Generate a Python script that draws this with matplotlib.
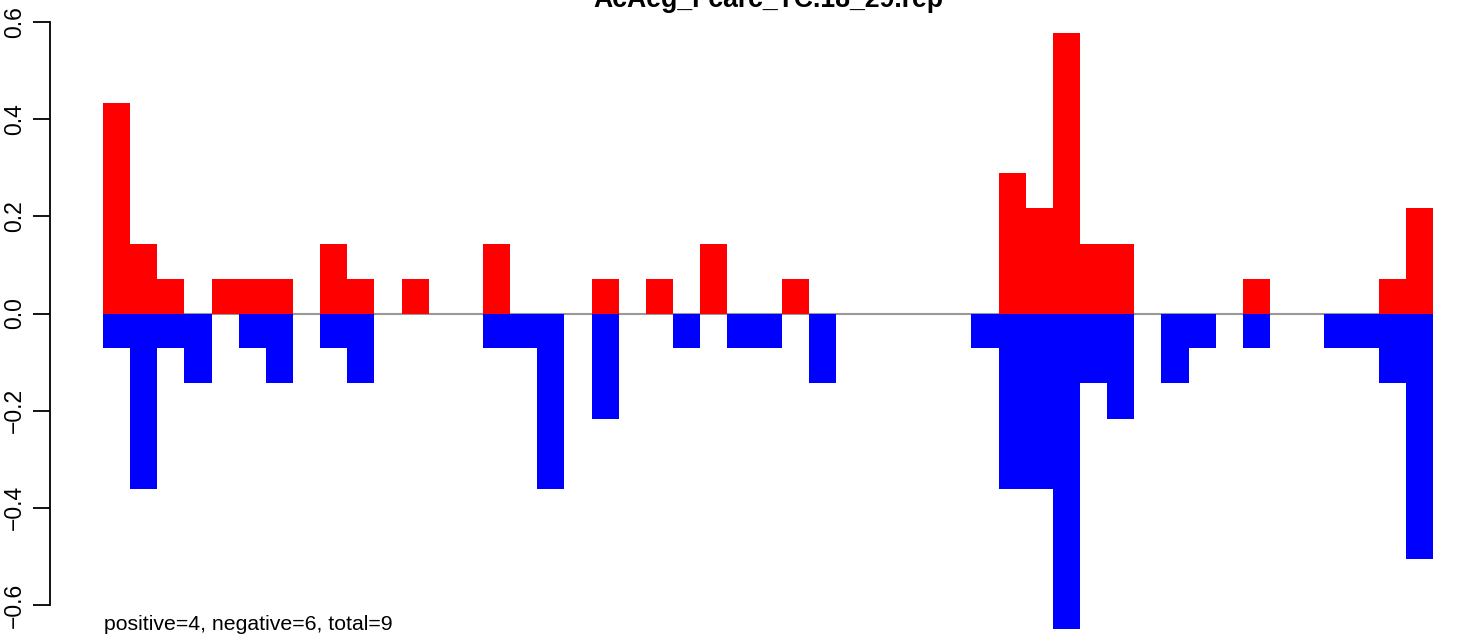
import matplotlib
matplotlib.use("Agg")
import matplotlib.pyplot as plt
import numpy as np

title = "AcAeg_Fcarc_TC.18_29.rep"
note = "positive=4, negative=6, total=9"

positive = [0.433, 0.144, 0.072, 0.0, 0.072, 0.072, 0.072, 0.0, 0.144, 0.072,
            0.0, 0.072, 0.0, 0.0, 0.144, 0.0, 0.0, 0.0, 0.072, 0.0,
            0.072, 0.0, 0.144, 0.0, 0.0, 0.072, 0.0, 0.0, 0.0, 0.0,
            0.0, 0.0, 0.0, 0.289, 0.217, 0.578, 0.144, 0.144, 0.0, 0.0,
            0.0, 0.0, 0.072, 0.0, 0.0, 0.0, 0.0, 0.072, 0.217]
negative = [0.072, 0.361, 0.072, 0.144, 0.0, 0.072, 0.144, 0.0, 0.072, 0.144,
            0.0, 0.0, 0.0, 0.0, 0.072, 0.072, 0.361, 0.0, 0.217, 0.0,
            0.0, 0.072, 0.0, 0.072, 0.072, 0.0, 0.144, 0.0, 0.0, 0.0,
            0.0, 0.0, 0.072, 0.361, 0.361, 0.650, 0.144, 0.217, 0.0, 0.144,
            0.072, 0.0, 0.072, 0.0, 0.0, 0.072, 0.072, 0.144, 0.505]
yticks = [-0.6, -0.4, -0.2, 0.0, 0.2, 0.4, 0.6]

W, H = 1460, 636
fig = plt.figure(figsize=(W / 100, H / 100), dpi=100)
ax = fig.add_axes([0, 0, 1, 1])

n = len(positive)
x = np.arange(n)
bw = 27.14          # px per bar
x0 = 103.0          # px of first bar
y0 = 313.5          # px (from top) of zero
ppu = 486.0         # px per y unit
ax.set_xlim(-x0 / bw, (W - x0) / bw)
ax.set_ylim(-(H - y0) / ppu, y0 / ppu)

ax.hlines(0, 0, n, color="#999999", lw=1.5, zorder=1)
ax.bar(x, positive, width=1, align="edge", color="#ff0000", lw=0, zorder=2)
ax.bar(x, [-v for v in negative], width=1, align="edge", color="#0000ff", lw=0, zorder=2)

for s in ["top", "right", "bottom"]:
    ax.spines[s].set_visible(False)
xa = -1.96
ax.spines["left"].set_position(("data", xa))
ax.spines["left"].set_bounds(-0.6, 0.6)
ax.spines["left"].set_linewidth(1.3)
ax.set_xticks([])
ax.set_yticks(yticks)
ax.set_yticklabels([f"{t:.1f}".replace("-", "\u2212") for t in yticks],
                   rotation=90, va="center", fontsize=16.5,
                   family="Liberation Sans")
ax.tick_params(axis="y", length=12, width=1.3, pad=5)
ax.patch.set_alpha(0)

fig.text(768 / W, 1 - 7 / H, title, ha="center", va="baseline",
         fontsize=19.2, fontweight="bold", family="Liberation Sans")
fig.text(104 / W, 1 - 630 / H, note, ha="left", va="baseline",
         fontsize=15.3, family="Liberation Sans")

fig.savefig("out.png", dpi=100)
